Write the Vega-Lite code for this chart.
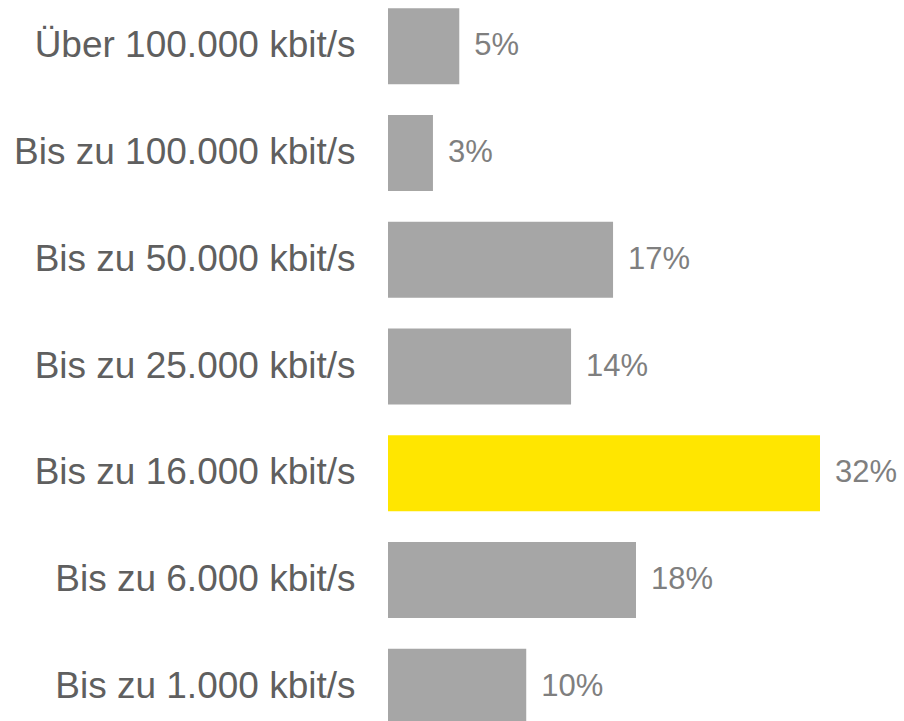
{
  "$schema": "https://vega.github.io/schema/vega-lite/v6.json",
  "autosize": "none",
  "width": 516,
  "height": 733,
  "padding": {"left": 388, "top": 0, "right": 0, "bottom": 0},
  "background": "white",
  "config": {"view": {"stroke": null}, "font": "Liberation Sans"},
  "data": {
    "values": [
      {"category": "Über 100.000 kbit/s", "value": 0.0528, "highlight": "no"},
      {"category": "Bis zu 100.000 kbit/s", "value": 0.0333, "highlight": "no"},
      {"category": "Bis zu 50.000 kbit/s", "value": 0.1667, "highlight": "no"},
      {"category": "Bis zu 25.000 kbit/s", "value": 0.1356, "highlight": "no"},
      {"category": "Bis zu 16.000 kbit/s", "value": 0.32, "highlight": "yes"},
      {"category": "Bis zu 6.000 kbit/s", "value": 0.1837, "highlight": "no"},
      {"category": "Bis zu 1.000 kbit/s", "value": 0.1024, "highlight": "no"}
    ]
  },
  "encoding": {
    "y": {
      "field": "category",
      "type": "nominal",
      "sort": null,
      "scale": {"paddingInner": 0.2875, "paddingOuter": 0.078},
      "axis": {
        "title": null,
        "ticks": false,
        "domain": false,
        "labelPadding": 33,
        "labelFontSize": 37,
        "labelColor": "#5f5f5f",
        "labelFont": "Liberation Sans",
        "labelLimit": 400
      }
    },
    "x": {
      "field": "value",
      "type": "quantitative",
      "scale": {"domain": [0, 0.38222], "nice": false, "zero": true},
      "axis": null
    }
  },
  "layer": [
    {
      "mark": {"type": "bar"},
      "encoding": {
        "color": {
          "field": "highlight",
          "type": "nominal",
          "scale": {"domain": ["no", "yes"], "range": ["#a6a6a6", "#ffe600"]},
          "legend": null
        }
      }
    },
    {
      "mark": {"type": "text", "align": "left", "baseline": "middle", "dx": 15, "fontSize": 31, "color": "#7f7f7f", "font": "Liberation Sans"},
      "encoding": {
        "text": {"field": "value", "type": "quantitative", "format": ".0%"}
      }
    }
  ]
}
